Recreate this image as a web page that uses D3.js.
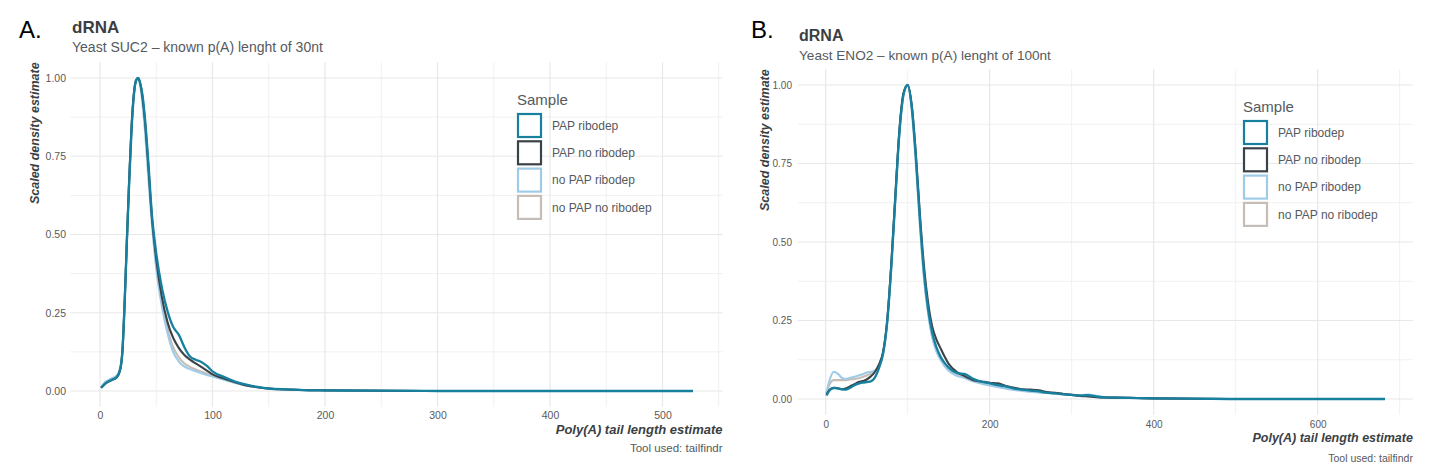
<!DOCTYPE html>
<html><head><meta charset="utf-8">
<script src="https://cdn.jsdelivr.net/npm/d3@7"></script>
<style>
html,body{margin:0;padding:0;background:#fff;}
svg{display:block;font-family:"Liberation Sans",Arial,Helvetica,sans-serif;}
</style></head>
<body>
<svg id="chart" width="1437" height="474"></svg>
<script>
// ---------- DATA ----------
const sampleNames = ["PAP ribodep", "PAP no ribodep", "no PAP ribodep", "no PAP no ribodep"];
const sampleColors = ["#17809f", "#3c4348", "#9fcbe7", "#c6beb6"];
const yTicks = [0, 0.25, 0.5, 0.75, 1];
const yTickLabels = ["0.00", "0.25", "0.50", "0.75", "1.00"];

// Panel A: Yeast SUC2
const xA = [1, 5, 10, 15, 18, 20, 22, 24, 26, 28, 30, 32, 34, 36, 38, 40, 43, 46, 50, 55, 60, 65, 70, 75, 80, 85, 90, 95, 100, 110, 120, 130, 140, 150, 165, 180, 200, 250, 300, 400, 527];
const A_papRibodep   = [0.010,0.025,0.035,0.045,0.070,0.130,0.290,0.490,0.670,0.830,0.940,0.990,1.000,0.980,0.940,0.870,0.730,0.570,0.440,0.330,0.255,0.205,0.180,0.140,0.110,0.100,0.093,0.080,0.063,0.045,0.030,0.020,0.013,0.008,0.005,0.003,0.002,0.001,0,0,0];
const A_papNoRibodep = [0.010,0.024,0.034,0.044,0.068,0.130,0.290,0.490,0.680,0.840,0.945,0.992,1.000,0.978,0.930,0.860,0.715,0.560,0.420,0.300,0.220,0.170,0.138,0.115,0.100,0.088,0.077,0.065,0.053,0.040,0.028,0.018,0.012,0.008,0.005,0.003,0.002,0.001,0,0,0];
const A_noPapRibodep = [0.012,0.030,0.040,0.050,0.075,0.140,0.300,0.500,0.690,0.850,0.950,0.995,1.000,0.970,0.910,0.830,0.680,0.540,0.390,0.270,0.185,0.125,0.095,0.078,0.070,0.063,0.057,0.051,0.046,0.036,0.026,0.018,0.012,0.008,0.005,0.003,0.002,0.001,0,0,0];
const A_noPapNoRibo  = [0.011,0.028,0.037,0.047,0.072,0.135,0.295,0.495,0.685,0.845,0.948,0.993,1.000,0.975,0.920,0.845,0.700,0.555,0.410,0.285,0.200,0.140,0.108,0.088,0.077,0.069,0.062,0.055,0.049,0.038,0.027,0.018,0.012,0.008,0.005,0.003,0.002,0.001,0,0,0];
const xTicksA = [0, 100, 200, 300, 400, 500];

// Panel B: Yeast ENO2
const xB = [1, 5, 10, 15, 20, 25, 30, 35, 40, 45, 50, 55, 60, 65, 70, 75, 80, 85, 90, 95, 100, 105, 110, 115, 120, 125, 130, 135, 140, 145, 150, 160, 170, 180, 190, 200, 210, 220, 230, 240, 250, 260, 270, 280, 290, 300, 310, 320, 330, 340, 360, 380, 400, 450, 500, 600, 682];
const B_papRibodep   = [0.011,0.028,0.035,0.034,0.031,0.030,0.036,0.044,0.049,0.052,0.054,0.056,0.068,0.098,0.145,0.245,0.420,0.640,0.850,0.970,1.000,0.930,0.770,0.570,0.400,0.285,0.210,0.165,0.135,0.115,0.100,0.083,0.079,0.064,0.055,0.050,0.044,0.040,0.033,0.030,0.027,0.024,0.020,0.018,0.015,0.013,0.011,0.012,0.008,0.005,0.004,0.003,0.002,0.001,0,0,0];
const B_papNoRibodep = [0.014,0.030,0.036,0.034,0.031,0.034,0.041,0.047,0.054,0.057,0.062,0.072,0.086,0.110,0.150,0.250,0.430,0.650,0.860,0.975,1.000,0.935,0.780,0.585,0.420,0.305,0.230,0.190,0.162,0.135,0.112,0.086,0.072,0.060,0.056,0.052,0.050,0.041,0.036,0.031,0.030,0.028,0.022,0.020,0.016,0.013,0.010,0.008,0.006,0.005,0.004,0.003,0.002,0.001,0,0,0];
const B_noPapRibodep = [0.020,0.062,0.087,0.080,0.067,0.064,0.068,0.071,0.075,0.079,0.084,0.087,0.090,0.106,0.142,0.240,0.420,0.640,0.850,0.970,1.000,0.920,0.750,0.550,0.380,0.270,0.195,0.152,0.125,0.105,0.090,0.074,0.066,0.056,0.049,0.043,0.038,0.033,0.029,0.026,0.023,0.021,0.019,0.017,0.015,0.013,0.012,0.014,0.010,0.006,0.004,0.003,0.002,0.001,0,0,0];
const B_noPapNoRibo  = [0.018,0.048,0.060,0.060,0.060,0.060,0.062,0.064,0.066,0.070,0.075,0.081,0.089,0.106,0.145,0.245,0.425,0.645,0.855,0.972,1.000,0.925,0.760,0.560,0.390,0.280,0.200,0.158,0.130,0.108,0.093,0.077,0.069,0.058,0.051,0.046,0.041,0.036,0.031,0.028,0.025,0.022,0.020,0.017,0.015,0.013,0.011,0.011,0.008,0.005,0.004,0.003,0.002,0.001,0,0,0];
const xTicksB = [0, 200, 400, 600];

// ---------- DRAW ----------
const svg = d3.select("#chart");

function drawPanel(p) {
  const g = svg.append("g");
  const x = d3.scaleLinear().domain(p.xDomain).range([p.left, p.right]);
  const y = d3.scaleLinear().domain([-0.05, 1.05]).range([p.bottom, p.top]);

  // minor grid
  const xMinor = [];
  for (let i = 0; i < p.xTicks.length; i++) {
    const step = p.xTicks[1] - p.xTicks[0];
    const m = p.xTicks[i] + step / 2;
    if (m <= p.xDomain[1]) xMinor.push(m);
  }
  const yMinor = [0.125, 0.375, 0.625, 0.875];
  g.append("g").selectAll("line").data(xMinor).join("line")
    .attr("x1", d => x(d)).attr("x2", d => x(d)).attr("y1", p.top).attr("y2", p.bottom)
    .attr("stroke", "#f1f1f1").attr("stroke-width", 1);
  g.append("g").selectAll("line").data(yMinor).join("line")
    .attr("x1", p.left).attr("x2", p.right).attr("y1", d => y(d)).attr("y2", d => y(d))
    .attr("stroke", "#f1f1f1").attr("stroke-width", 1);
  // major grid
  g.append("g").selectAll("line").data(p.xTicks).join("line")
    .attr("x1", d => x(d)).attr("x2", d => x(d)).attr("y1", p.top).attr("y2", p.bottom)
    .attr("stroke", "#e8e8e8").attr("stroke-width", 1.2);
  g.append("g").selectAll("line").data(yTicks).join("line")
    .attr("x1", p.left).attr("x2", p.right).attr("y1", d => y(d)).attr("y2", d => y(d))
    .attr("stroke", "#e8e8e8").attr("stroke-width", 1.2);

  // axes (text only)
  const xAxis = g.append("g").attr("transform", `translate(0,${p.xLabelY})`)
    .call(d3.axisBottom(x).tickValues(p.xTicks).tickSize(0).tickPadding(0));
  xAxis.select(".domain").remove();
  xAxis.selectAll("text").attr("fill", "#5a5a5a").attr("font-size", p.tickFont)
    .attr("dy", "0.35em").attr("y", 0);
  const yAxis = g.append("g").attr("transform", `translate(${p.yLabelX},0)`)
    .call(d3.axisLeft(y).tickValues(yTicks).tickFormat((d, i) => yTickLabels[i]).tickSize(0).tickPadding(0));
  yAxis.select(".domain").remove();
  yAxis.selectAll("text").attr("fill", "#5a5a5a").attr("font-size", p.tickFont);

  // lines
  const line = d3.line().x(d => x(d[0])).y(d => y(d[1])).curve(d3.curveMonotoneX);
  const order = [3, 2, 1, 0];
  order.forEach(i => {
    const pts = p.xs.map((v, j) => [v, p.series[i][j]]);
    g.append("path").datum(pts).attr("d", line)
      .attr("fill", "none").attr("stroke", sampleColors[i])
      .attr("stroke-width", i === 0 ? 2.3 : 2.1).attr("stroke-linejoin", "round");
  });

  // titles
  svg.append("text").attr("x", p.letterX).attr("y", 38).text(p.letter)
    .attr("font-size", 24).attr("fill", "#000");
  svg.append("text").attr("x", p.titleX).attr("y", p.titleY).text("dRNA")
    .attr("font-size", p.titleFont).attr("font-weight", "bold").attr("fill", "#3b3f43");
  svg.append("text").attr("x", p.titleX).attr("y", p.subY).text(p.subtitle)
    .attr("font-size", p.subFont).attr("fill", "#555a5e");
  svg.append("text").attr("transform", `translate(${p.yTitleX},${p.top}) rotate(-90)`)
    .attr("text-anchor", "end").text("Scaled density estimate")
    .attr("font-size", 12.5).attr("font-weight", "bold").attr("font-style", "italic").attr("fill", "#3b3f43");
  svg.append("text").attr("x", p.right).attr("y", p.xTitleY).attr("text-anchor", "end")
    .text("Poly(A) tail length estimate")
    .attr("font-size", p.xTitleFont).attr("font-weight", "bold").attr("font-style", "italic").attr("fill", "#3b3f43");
  svg.append("text").attr("x", p.right).attr("y", p.capY).attr("text-anchor", "end")
    .text("Tool used: tailfindr").attr("font-size", p.capFont).attr("fill", "#555a5e");

  // legend
  const lg = svg.append("g").attr("transform", `translate(${p.legX},${p.legY})`);
  lg.append("text").attr("x", 0).attr("y", 0).text("Sample").attr("font-size", 15).attr("fill", "#555a5e");
  sampleNames.forEach((n, i) => {
    const yy = 9 + i * 27.3;
    lg.append("rect").attr("x", 1).attr("y", yy).attr("width", 23).attr("height", 23)
      .attr("fill", "#fff").attr("stroke", sampleColors[i]).attr("stroke-width", 2.2);
    lg.append("text").attr("x", 35).attr("y", yy + 11.5).attr("dy", "0.35em").text(n)
      .attr("font-size", 12).attr("fill", "#555a5e");
  });
}

drawPanel({
  xs: xA, series: [A_papRibodep, A_papNoRibodep, A_noPapRibodep, A_noPapNoRibo],
  xDomain: [-26.4, 553.4], left: 70.3, right: 722.6, top: 62.35, bottom: 406.65,
  xTicks: xTicksA, xLabelY: 415, yLabelX: 66, tickFont: 10.5,
  letter: "A.", letterX: 19, titleX: 72, titleY: 33, subY: 52, titleFont: 17, subFont: 14,
  subtitle: "Yeast SUC2 \u2013 known p(A) lenght of 30nt",
  yTitleX: 39, xTitleY: 434, xTitleFont: 13, capY: 452, capFont: 11.5,
  legX: 517, legY: 105
});

drawPanel({
  xs: xB, series: [B_papRibodep, B_papNoRibodep, B_noPapRibodep, B_noPapNoRibo],
  xDomain: [-34.1, 716.1], left: 797.7, right: 1412.9, top: 69.3, bottom: 414.7,
  xTicks: xTicksB, xLabelY: 424, yLabelX: 792, tickFont: 10,
  letter: "B.", letterX: 751, titleX: 799, titleY: 41, subY: 60, titleFont: 16, subFont: 13.6,
  subtitle: "Yeast ENO2 \u2013 known p(A) lenght of 100nt",
  yTitleX: 769, xTitleY: 441.5, xTitleFont: 12.5, capY: 461.5, capFont: 10.5,
  legX: 1243, legY: 112
});
</script>
</body></html>
